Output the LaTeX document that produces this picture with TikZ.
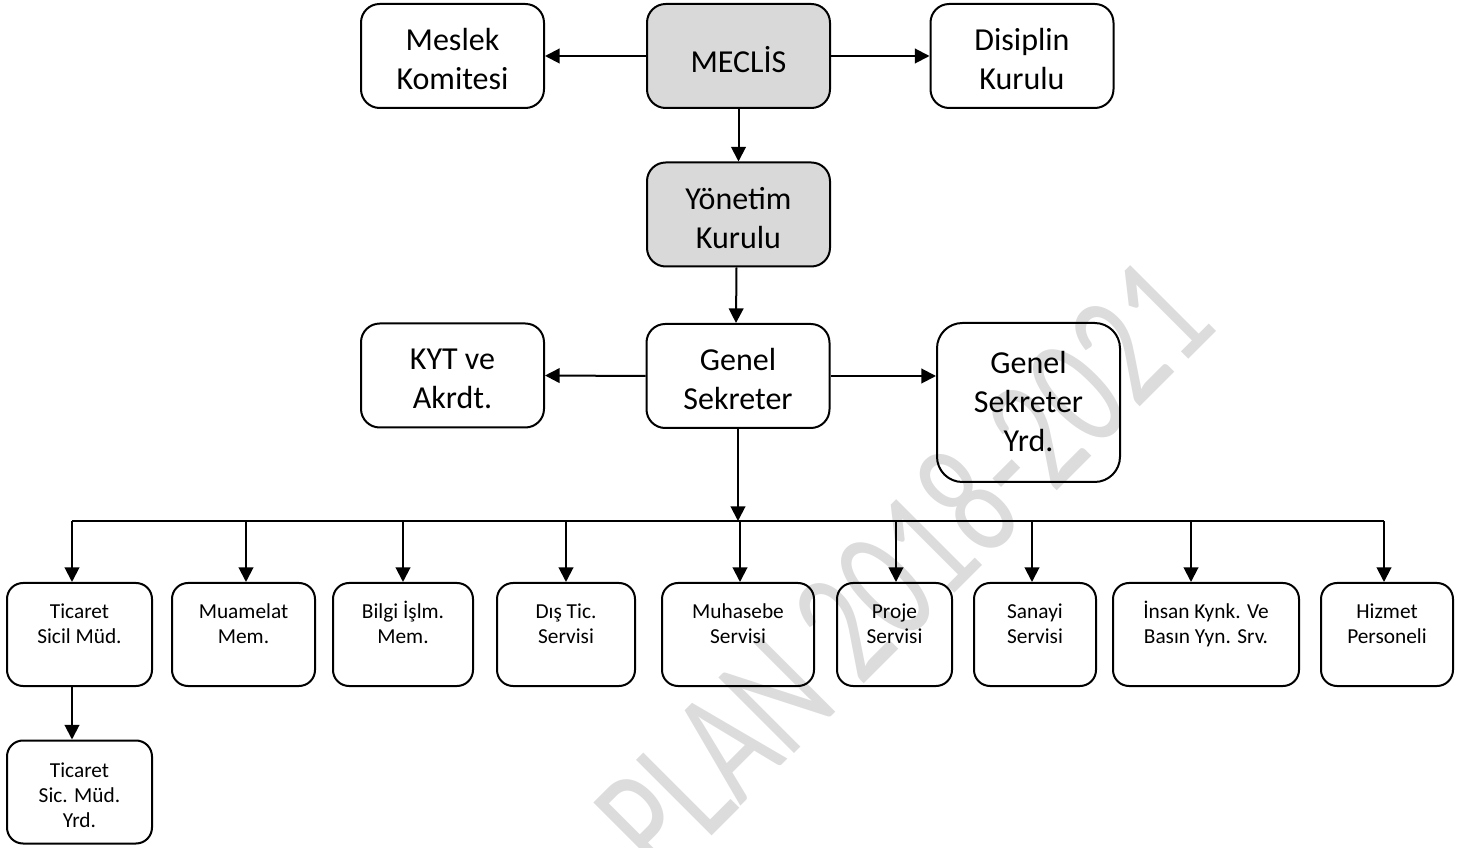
\documentclass[tikz,border=0pt]{standalone}
\usepackage{fontspec}
\setmainfont{Carlito}
\usetikzlibrary{arrows.meta}
\definecolor{boxgray}{HTML}{D9D9D9}
\definecolor{wmgray}{HTML}{DCDCDC}
\begin{document}
\begin{tikzpicture}[x=0.75pt,y=-0.75pt,
  box/.style={draw=black, line width=1.5pt, rounded corners=14pt, inner sep=0pt},
  topbox/.style={box, minimum width=137.25pt, minimum height=78pt},
  toptext/.style={inner sep=0pt, align=center, font=\fontsize{24}{29.25}\selectfont, yshift=-2.6pt},
  shaded/.style={fill=boxgray},
  smallbox/.style={draw=black, line width=1.5pt, rounded corners=12pt, minimum height=77.25pt, inner sep=0pt},
  smalltext/.style={anchor=north, inner sep=0pt, align=center, font=\fontsize{16}{19}\selectfont, yshift=-13.7pt},
  arr/.style={line width=1.5pt, -{Triangle[length=11pt,width=11pt]}},
  busline/.style={line width=1.5pt}
]
\useasboundingbox (0,0) rectangle (1465,848);
% watermark
\begin{scope}
  \clip (0,0) rectangle (1465,848);
  \node[rotate=45, text=wmgray, inner sep=0pt, font=\fontsize{125}{125}\selectfont] (wm) at (902,566) {\scalebox{0.7}[1]{PLAN 2018-2021}};
\end{scope}

% top boxes
\node[topbox] (meslek) at (452.5,56) {};
\node[topbox, shaded] (meclis) at (738.5,56) {};
\node[topbox] (disiplin) at (1022,56) {};
\node[topbox, shaded] (yonetim) at (738.5,214.5) {};
\node[topbox] (kyt) at (452.5,375.5) {};
\node[topbox] (genel) at (738,376) {};
\node[box, rounded corners=19pt, minimum width=137.25pt, minimum height=119.25pt] (gsy) at (1028.5,402.5) {};

\node[toptext] (tmeslek) at (meslek.center) {Meslek\\Komitesi};
\node[toptext] (tmeclis) at (meclis.center) {MECLİS};
\node[toptext] (tdisiplin) at (disiplin.center) {Disiplin\\Kurulu};
\node[toptext] (tyonetim) at (yonetim.center) {Yönetim\\Kurulu};
\node[toptext] (tkyt) at (kyt.center) {KYT ve\\Akrdt.};
\node[toptext] (tgenel) at (genel.center) {Genel\\Sekreter};
\node[toptext, yshift=3.5pt] (tgsy) at (gsy.center) {Genel\\Sekreter\\Yrd.};

\draw[arr] (meclis.west) -- (meslek.east);
\draw[arr] (meclis.east) -- (disiplin.west);
\draw[arr] (meclis.south) -- (yonetim.north);
\draw[arr] ([xshift=-1.5pt]yonetim.south) -- ([xshift=-1.5pt]genel.north);
\draw[arr] (genel.west) -- (kyt.east);
\draw[arr] (genel.east) -- (genel.east -| gsy.west);

% bottom boxes
\node[smallbox, minimum width=108.75pt] (tsm) at (79.5,634.5) {};
\node[smallbox, minimum width=107.25pt] (muam) at (243.5,634.5) {};
\node[smallbox, minimum width=105pt] (bilgi) at (403,634.5) {};
\node[smallbox, minimum width=103.5pt] (dis) at (566,634.5) {};
\node[smallbox, minimum width=114pt] (muh) at (738,634.5) {};
\node[smallbox, minimum width=86.25pt] (proje) at (894.5,634.5) {};
\node[smallbox, minimum width=91.5pt] (sanayi) at (1035,634.5) {};
\node[smallbox, minimum width=139.5pt] (insan) at (1206,634.5) {};
\node[smallbox, minimum width=99pt] (hizmet) at (1387,634.5) {};
\node[smallbox, minimum width=108.75pt] (tsmy) at (79.5,792) {};

\node[smalltext] (ttsm) at (tsm.north) {\strut Ticaret\\Sicil Müd.};
\node[smalltext] (tmuam) at (muam.north) {\strut Muamelat\\Mem.};
\node[smalltext] (tbilgi) at (bilgi.north) {\strut Bilgi İşlm.\\Mem.};
\node[smalltext] (tdis) at (dis.north) {\strut Dış Tic.\\Servisi};
\node[smalltext] (tmuh) at (muh.north) {\strut Muhasebe\\Servisi};
\node[smalltext] (tproje) at (proje.north) {\strut Proje\\Servisi};
\node[smalltext] (tsanayi) at (sanayi.north) {\strut Sanayi\\Servisi};
\node[smalltext] (tinsan) at (insan.north) {\strut İnsan Kynk. Ve\\Basın Yyn. Srv.};
\node[smalltext] (thizmet) at (hizmet.north) {\strut Hizmet\\Personeli};
\node[smalltext, yshift=-1pt] (ttsmy) at (tsmy.north) {\strut Ticaret\\Sic. Müd.\\Yrd.};

% bus
\coordinate (busc) at (739,521);
\coordinate (d1) at (72,521);
\coordinate (d2) at (246,521);
\coordinate (d3) at (403,521);
\coordinate (d4) at (566,521);
\coordinate (d5) at (740,521);
\coordinate (d6) at (896,521);
\coordinate (d7) at (1032,521);
\coordinate (d8) at (1191,521);
\coordinate (d9) at (1384,521);

\draw[arr] (genel.south) -- (genel.south |- busc);
\draw[busline] (d1) -- (d9);
\draw[arr] (d1) -- (d1 |- tsm.north);
\draw[arr] (d2) -- (d2 |- muam.north);
\draw[arr] (d3) -- (d3 |- bilgi.north);
\draw[arr] (d4) -- (d4 |- dis.north);
\draw[arr] (d5) -- (d5 |- muh.north);
\draw[arr] (d6) -- (d6 |- proje.north);
\draw[arr] (d7) -- (d7 |- sanayi.north);
\draw[arr] (d8) -- (d8 |- insan.north);
\draw[arr] (d9) -- (d9 |- hizmet.north);
\draw[arr] (d1 |- tsm.south) -- (d1 |- tsmy.north);
\end{tikzpicture}
\end{document}
